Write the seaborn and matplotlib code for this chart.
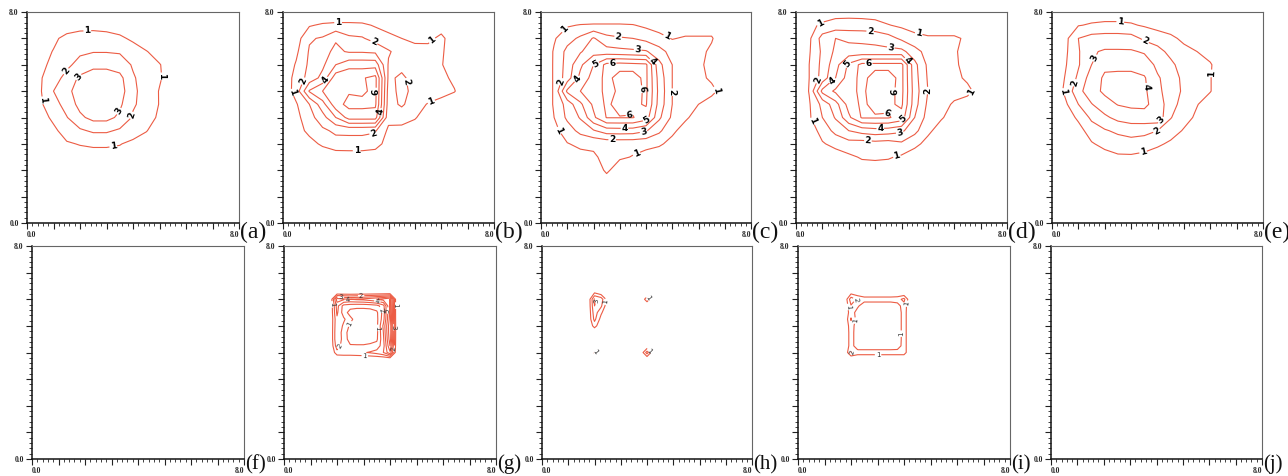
import numpy as np
import matplotlib
matplotlib.use("Agg")
import matplotlib.pyplot as plt
from matplotlib.ticker import MultipleLocator
import seaborn as sns

sns.set_theme(style="ticks")
plt.rcParams["font.family"] = ["DejaVu Sans"]

# ---------------- data ----------------
LEVELS = [1, 2, 3, 4, 5, 6]
PANEL_LABELS = ["(a)", "(b)", "(c)", "(d)", "(e)", "(f)", "(g)", "(h)", "(i)", "(j)"]
TICK_TEXT = ["0.0", "8.0"]

# coarse grid (step 0.5 on 0..8); rows listed from y=8.0 (top) down to y=0.0
COARSE_X = np.arange(0.0, 8.01, 0.5)
COARSE_Y = np.arange(0.0, 8.01, 0.5)
# fine grid (step 0.25 on 1.5..4.5); rows listed from y=6.5 (top) down to y=3.5
FINE_X = np.arange(1.5, 4.51, 0.25)
FINE_Y = np.arange(3.5, 6.51, 0.25)

a_rows = [
    [],
    [0, 0, 0, 0.45, 0.6, 0.65, 0.6, 0.45, 0.2],
    [0, 0.3, 0.8, 1.3, 1.5, 1.5, 1.4, 1.2, 0.8, 0.4],
    [0.2, 0.6, 1.05, 1.6, 1.85, 1.95, 1.95, 1.9, 1.5, 1.05, 0.6, 0.2],
    [0.3, 0.8, 1.2, 1.8, 2.3, 2.7, 2.7, 2.5, 1.9, 1.5, 1.05, 0.5],
    [0.4, 0.9, 1.6, 2.3, 3.2, 3.6, 3.6, 3.3, 2.1, 1.6, 1.1, 0.5],
    [0.5, 0.9, 2.0, 2.7, 3.5, 3.7, 3.7, 3.5, 2.2, 1.6, 0.95, 0.4],
    [0.4, 0.85, 1.6, 2.4, 3.3, 3.6, 3.6, 3.2, 2.1, 1.7, 0.95, 0.4],
    [0.2, 0.6, 1.2, 1.95, 2.8, 3.3, 3.3, 2.8, 1.9, 1.5, 0.8, 0.3],
    [0, 0.3, 0.8, 1.4, 1.85, 2.15, 2.15, 1.85, 1.5, 1.05, 0.5, 0.1],
    [0, 0, 0.4, 0.9, 1.05, 1.15, 1.15, 1.05, 0.75, 0.5, 0.1],
    [0, 0, 0.1, 0.3, 0.6, 0.6, 0.6, 0.6, 0.3, 0.1],
    [], [], [], [], [],
]

b_rows = [
    [],
    [0, 0, 0.9, 1.15, 1.25, 1.25, 1.2, 0.9, 0.6, 0.5, 0.5, 0.5, 0.6, 0.4],
    [0, 0.5, 1.9, 2.1, 2.9, 2.2, 2.1, 1.6, 1.3, 1.0, 0.75, 0.8, 1.2, 0.5],
    [0, 0.8, 2.1, 2.7, 3.2, 2.9, 2.9, 2.8, 2.1, 1.6, 1.4, 1.3, 1.1, 0.6],
    [0.2, 1.1, 2.2, 2.8, 4.0, 4.6, 4.6, 4.6, 1.9, 1.7, 1.5, 1.3, 1.05, 0.6],
    [0.4, 1.3, 2.4, 3.3, 5.6, 5.9, 5.9, 6.3, 1.8, 2.2, 1.6, 1.4, 1.25, 0.8, 0.2],
    [0.3, 1.4, 4.1, 5.0, 5.8, 5.9, 5.8, 6.3, 1.6, 2.3, 1.7, 1.4, 1.3, 1.05, 0.3],
    [0.2, 0.9, 2.0, 3.6, 5.6, 6.3, 6.3, 6.2, 1.5, 2.2, 1.3, 0.95, 0.7, 0.4],
    [0, 0.7, 1.6, 2.6, 4.0, 5.4, 5.4, 5.4, 1.3, 1.2, 1.05, 0.7, 0.3],
    [0, 0.5, 1.3, 1.8, 2.2, 2.2, 2.2, 2.1, 0.8, 0.85, 0.7, 0.3],
    [0, 0.1, 0.6, 1.2, 1.6, 1.65, 1.65, 1.5, 0.5, 0.2],
    [0, 0, 0, 0.2, 0.4, 0.4, 0.4, 0.3],
    [], [], [], [], [],
]

c_rows = [
    [],
    [0, 0.5, 0.9, 1.05, 1.1, 1.1, 1.1, 1.05, 0.8, 0.6, 0.5, 0.5, 0.5, 0.5],
    [0, 0.9, 1.6, 2.2, 3.1, 2.3, 2.1, 2.0, 1.7, 1.3, 0.95, 1.1, 1.1, 1.1, 0.2],
    [0.1, 1.1, 2.3, 2.9, 3.6, 3.4, 3.3, 3.2, 3.1, 2.4, 1.6, 1.4, 1.3, 0.8],
    [0.2, 1.1, 2.4, 3.8, 5.0, 6.3, 6.4, 6.3, 6.2, 3.3, 2.0, 1.6, 1.2, 0.7],
    [0.2, 1.1, 2.5, 4.3, 5.4, 6.3, 5.6, 5.7, 6.2, 3.6, 2.0, 1.7, 1.3, 0.8, 0.1],
    [0.2, 1.1, 4.2, 5.0, 5.6, 6.2, 5.9, 5.5, 6.2, 3.7, 2.0, 1.8, 1.5, 1.3, 0.5],
    [0.2, 1.1, 2.4, 3.8, 5.2, 6.2, 5.6, 5.8, 6.1, 3.6, 2.0, 1.6, 1.0, 0.5],
    [0.1, 1.0, 2.2, 3.1, 4.8, 6.05, 6.05, 6.05, 5.5, 3.2, 1.8, 1.15, 0.6, 0.2],
    [0, 0.7, 1.5, 2.3, 2.9, 3.5, 3.55, 3.5, 3.1, 2.2, 1.2, 0.6, 0.2],
    [0, 0.3, 0.95, 1.2, 1.2, 1.3, 1.3, 1.3, 1.25, 1.15, 0.7, 0.3],
    [0, 0, 0.3, 0.7, 0.85, 1.3, 1.15, 0.95, 0.7, 0.4, 0.1],
    [0, 0, 0, 0.1, 0.3, 1.2, 0.4, 0.3, 0.1],
    [0, 0, 0, 0, 0, 0.4],
    [], [], [],
]

d_rows = [
    [0, 0, 0.3, 0.6, 0.6, 0.6, 0.5, 0.3],
    [0, 0.7, 1.2, 1.4, 1.45, 1.4, 1.35, 1.05, 0.8, 0.6, 0.6, 0.6, 0.6, 0.4],
    [0, 0.8, 2.4, 3.0, 2.8, 2.8, 2.7, 2.4, 1.8, 1.3, 1.1, 1.1, 1.1, 0.9],
    [0, 0.9, 2.2, 3.2, 3.4, 3.3, 3.3, 3.3, 3.3, 2.4, 1.6, 1.3, 1.1, 0.7],
    [0, 1.0, 2.3, 3.6, 5.2, 6.3, 6.3, 6.3, 6.3, 3.3, 1.8, 1.4, 1.2, 0.6],
    [0, 1.0, 2.4, 4.0, 5.5, 6.3, 5.6, 5.6, 6.3, 3.4, 1.9, 1.5, 1.3, 0.8, 0.1],
    [0, 1.05, 4.3, 5.2, 5.7, 6.2, 5.5, 5.7, 6.3, 3.5, 2.0, 1.6, 1.4, 1.3, 0.5],
    [0, 0.9, 2.3, 3.6, 5.4, 6.2, 5.7, 5.8, 6.2, 3.4, 1.8, 1.4, 0.85, 0.5],
    [0, 0.85, 2.0, 3.1, 4.8, 6.1, 6.1, 6.1, 5.6, 3.0, 1.6, 1.1, 0.6, 0.1],
    [0, 0.4, 1.4, 2.3, 3.0, 3.4, 3.6, 3.5, 3.2, 2.3, 1.2, 0.6, 0.1],
    [0, 0, 0.9, 1.3, 1.6, 1.5, 1.6, 1.5, 1.8, 1.25, 0.7, 0.3],
    [0, 0, 0.2, 0.5, 0.8, 1.1, 1.15, 1.1, 0.85, 0.5, 0.2],
    [0, 0, 0, 0.1, 0.3, 0.55, 0.57, 0.5, 0.3],
    [], [], [], [],
]

e_rows = [
    [0, 0, 0.2, 0.5, 0.6, 0.6, 0.5, 0.3],
    [0, 0.3, 0.95, 1.1, 1.15, 1.15, 1.1, 0.9, 0.6, 0.3],
    [0, 0.7, 2.0, 2.4, 2.5, 2.5, 2.4, 1.8, 1.6, 1.3, 0.7, 0.3],
    [0, 0.8, 1.9, 2.9, 3.1, 3.1, 3.1, 2.9, 2.3, 1.75, 1.4, 1.0, 0.6, 0.2],
    [0, 0.9, 1.9, 3.0, 3.8, 3.7, 3.7, 3.5, 2.8, 2.2, 1.6, 1.3, 1.1, 0.3],
    [0.1, 1.05, 2.2, 3.5, 4.15, 4.3, 4.3, 4.1, 3.1, 2.6, 1.7, 1.3, 1.05, 0.3],
    [0.15, 1.2, 2.7, 3.6, 4.2, 4.35, 4.35, 4.2, 3.2, 2.6, 1.8, 1.3, 1.05, 0.3],
    [0, 0.8, 2.0, 2.95, 3.6, 4.05, 4.2, 4.2, 3.6, 2.4, 1.6, 1.05, 0.5],
    [0, 0.4, 1.2, 2.2, 2.8, 3.3, 3.5, 3.6, 3.7, 2.05, 1.4, 0.8, 0.2],
    [0, 0, 0.6, 1.5, 1.9, 2.2, 2.4, 2.3, 2.0, 1.5, 0.9, 0.4],
    [0, 0, 0.2, 0.9, 1.3, 1.5, 1.6, 1.5, 1.2, 0.8, 0.3],
    [0, 0, 0, 0.3, 0.6, 0.85, 0.85, 0.7, 0.4, 0.1],
    [], [], [], [], [],
]

f_rows = []

g_rows = [
    [],
    [],
    [0, 0, 4.5, 4.2, 4.0, 4.2, 4.3, 4.6, 5.0, 5.4, 6.0],
    [0, 0, 3.4, 1.6, 1.4, 1.3, 1.3, 1.4, 1.6, 2.6, 6.2],
    [0, 0, 3.2, 1.5, 0.6, 0.5, 0.5, 0.5, 0.8, 2.4, 6.3],
    [0, 0, 2.8, 2.2, 1.3, 0.5, 0.4, 0.4, 0.7, 2.6, 6.5],
    [0, 0, 2.9, 1.8, 0.8, 0.4, 0.3, 0.3, 0.7, 3.2, 6.8],
    [0, 0, 3.0, 1.4, 0.6, 0.4, 0.3, 0.3, 0.7, 3.0, 6.8],
    [0, 0, 3.0, 1.5, 0.6, 0.5, 0.5, 0.6, 0.8, 2.8, 6.6],
    [0, 0, 2.6, 1.4, 1.1, 1.1, 1.1, 1.2, 1.4, 2.6, 6.0],
    [0, 0, 1.6, 1.7, 1.7, 1.8, 1.9, 2.1, 2.4, 3.0, 4.8],
    [],
    [],
]

h_rows = [
    [],
    [0, 0, 0.9, 0.3],
    [0, 0, 3.2, 2.6, 0.4, 0, 0, 0, 0, 0, 1.6],
    [0, 0, 3.0, 2.2, 0.2],
    [0, 0, 2.6, 1.2],
    [0, 0, 2.3, 0.6],
    [0, 0, 1.4, 0.2],
    [],
    [],
    [],
    [0, 0, 1.2, 0, 0, 0, 0, 0, 0, 0, 2.5],
    [],
    [],
]

i_rows = [
    [],
    [0, 0, 0.6, 0.3],
    [0, 0, 2.6, 1.8, 1.5, 1.5, 1.5, 1.5, 1.5, 1.6, 2.3],
    [0, 0, 1.9, 1.2, 0.3, 0.3, 0.3, 0.3, 0.3, 0.5, 1.6],
    [0, 0, 1.6, 0.5, 0.2, 0.2, 0.2, 0.2, 0.2, 0.3, 1.5],
    [0, 0, 2.1, 0.4, 0.2, 0.2, 0.2, 0.2, 0.2, 0.3, 1.5],
    [0, 0, 1.6, 0.3, 0.2, 0.2, 0.2, 0.2, 0.2, 0.3, 1.5],
    [0, 0, 1.5, 0.3, 0.2, 0.2, 0.2, 0.2, 0.2, 0.3, 1.5],
    [0, 0, 1.5, 0.3, 0.2, 0.2, 0.2, 0.2, 0.2, 0.3, 1.5],
    [0, 0, 1.5, 0.3, 0.3, 0.3, 0.3, 0.3, 0.3, 0.4, 1.5],
    [0, 0, 2.1, 1.5, 1.5, 1.5, 1.5, 1.5, 1.5, 1.5, 1.5],
    [],
    [],
]

j_rows = []

# ---------------- helpers ----------------
def to_grid(rows, nx, ny):
    z = np.zeros((ny, nx))
    for k, r in enumerate(rows):
        z[k, :len(r)] = r
    return z[::-1]  # first listed row is the top one


def label_spots(cs, min_len, spacing, min_gap):
    """Spread label anchor points along each drawn contour path."""
    spots = []
    for path in cs.get_paths():
        for seg in path.to_polygons(closed_only=False):
            if len(seg) < 2:
                continue
            d = np.hypot(np.diff(seg[:, 0]), np.diff(seg[:, 1]))
            length = d.sum()
            if length < min_len:
                continue
            n = max(1, int(round(length / spacing)))
            cum = np.concatenate([[0.0], np.cumsum(d)])
            for k in range(n):
                s = (k + 0.35) / n * length
                px = np.interp(s, cum, seg[:, 0])
                py = np.interp(s, cum, seg[:, 1])
                if all(np.hypot(px - qx, py - qy) >= min_gap for qx, qy in spots):
                    spots.append((px, py))
    return spots


panels = [
    (a_rows, "coarse"), (b_rows, "coarse"), (c_rows, "coarse"), (d_rows, "coarse"), (e_rows, "coarse"),
    (f_rows, "coarse"), (g_rows, "fine"), (h_rows, "fine"), (i_rows, "fine"), (j_rows, "coarse"),
]

LINE_COLOR = "#ec5c44"
W, H = 1288, 476
# (left, top, width, height) in pixels
rects = [
    (27, 12, 212, 211), (283, 12, 211, 211), (541, 12, 210, 211), (796, 12, 211, 211), (1052, 12, 211, 211),
    (32, 246, 212, 213), (284, 246, 212, 213), (542, 246, 210, 213), (798, 246, 212, 213), (1051, 246, 211, 213),
]

fig = plt.figure(figsize=(W / 100, H / 100), dpi=100)
fig.patch.set_facecolor("white")

for idx, ((rows, kind), (l, t, w, h)) in enumerate(zip(panels, rects)):
    ax = fig.add_axes([l / W, 1 - (t + h) / H, w / W, h / H])
    ax.set_facecolor("white")
    if kind == "coarse":
        gx, gy = COARSE_X, COARSE_Y
    else:
        gx, gy = FINE_X, FINE_Y
    z = to_grid(rows, len(gx), len(gy))
    top_row = idx < 5
    ax.set_xlim(0, 8)
    ax.set_ylim(0, 8)
    if z.max() >= LEVELS[0]:
        cs = ax.contour(gx, gy, z, levels=LEVELS, colors=LINE_COLOR, linewidths=0.8)
        if top_row:
            spots = label_spots(cs, min_len=0.6, spacing=4.0, min_gap=0.45)
        else:
            spots = label_spots(cs, min_len=0.12, spacing=3.0, min_gap=0.22)
        ax.clabel(cs, fmt="%d", fontsize=6.5 if top_row else 5,
                  colors="black" if top_row else "#333333",
                  inline=True, inline_spacing=1, manual=spots)
        for tx in ax.texts:
            tx.set_fontweight("bold" if top_row else "normal")
    ticks = list(range(9))
    labels = [TICK_TEXT[0]] + [""] * 7 + [TICK_TEXT[1]]
    ax.set_xticks(ticks, labels=labels, fontsize=5.5, fontweight="bold", fontfamily="Liberation Serif")
    ax.set_yticks(ticks, labels=labels, fontsize=5.5, fontweight="bold", fontfamily="Liberation Serif")
    ax.xaxis.set_minor_locator(MultipleLocator(0.2))
    ax.yaxis.set_minor_locator(MultipleLocator(0.2))
    ax.tick_params(which="major", direction="out", length=4.5, width=0.8, color="#222222", pad=1.5)
    ax.tick_params(which="minor", direction="out", length=2.5, width=0.6, color="#222222")
    ax.tick_params(top=False, right=False, which="both")
    xl = ax.get_xticklabels()
    xl[0].set_ha("left")
    xl[-1].set_ha("right")
    for s in ("left", "bottom"):
        ax.spines[s].set_color("#111111")
        ax.spines[s].set_linewidth(1.1)
    for s in ("top", "right"):
        ax.spines[s].set_color("#666666")
        ax.spines[s].set_linewidth(0.8)
    ax.annotate(PANEL_LABELS[idx], xy=(1, 0), xycoords="axes fraction",
                xytext=(0.5, -6.5 if top_row else -4.0), textcoords="offset points",
                ha="left", va="center", fontsize=17 if top_row else 15,
                fontfamily="Liberation Serif", color="#111111")

fig.savefig("out.png", dpi=100, facecolor="white")
